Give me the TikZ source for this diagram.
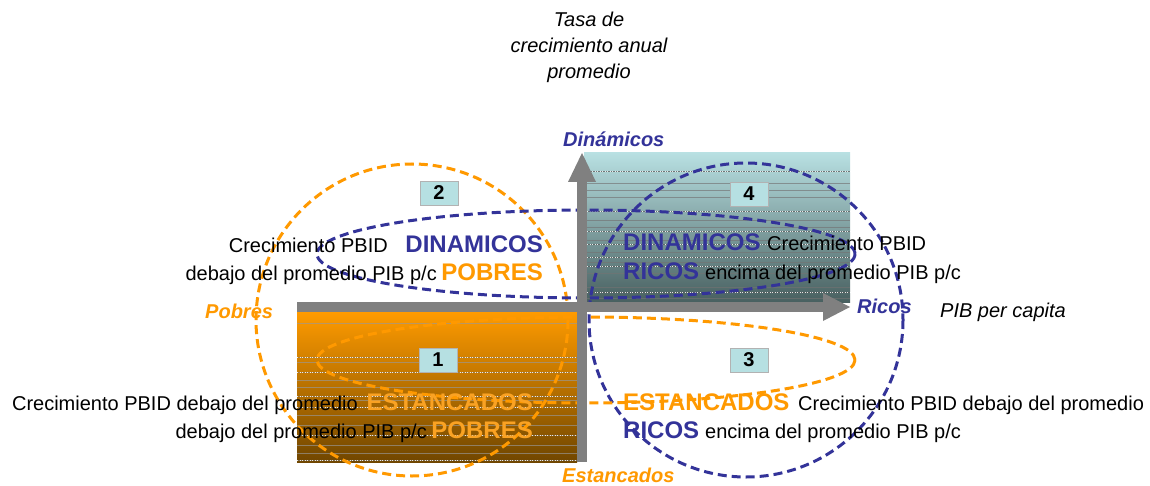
\documentclass[tikz,border=0pt]{standalone}
\usepackage{fontspec}
\setmainfont{Liberation Sans}
\definecolor{ablue}{RGB}{51,51,153}
\definecolor{aorange}{RGB}{255,153,0}
\definecolor{lorange}{RGB}{250,162,35}
\definecolor{axgray}{RGB}{128,128,128}
\definecolor{boxcyan}{RGB}{182,224,226}
\tikzset{
 txt/.style={inner sep=0pt, font=\fontsize{20}{24}\selectfont},
 ttl/.style={inner sep=0pt, anchor=base, font=\fontsize{20}{24}\selectfont\itshape},
 big/.style={inner sep=0pt, font=\fontsize{24}{28}\selectfont\bfseries},
 axlab/.style={inner sep=0pt, font=\fontsize{20}{24}\selectfont\bfseries\itshape},
 numbox/.style={draw=gray!60, line width=0.8pt, fill=boxcyan, minimum width=38pt, minimum height=24pt, inner sep=0pt, font=\fontsize{20}{22}\selectfont\bfseries},
 dashline/.style={line width=3pt, dash pattern=on 9pt off 5pt},
 stripe/.style={line width=0.9pt, black!55, opacity=0.65},
 dotstripe/.style={line width=1pt, white, dash pattern=on 1pt off 1.5pt, opacity=0.85},
}
\begin{document}
\begin{tikzpicture}[x=1pt,y=-1pt]
\useasboundingbox (0,0) rectangle (1150,486);
\fill[white] (0,0) rectangle (1150,486);
% quadrant 4 background
\shade[top color={rgb,255:red,184;green,224;blue,226}, middle color={rgb,255:red,142;green,176;blue,178}, bottom color={rgb,255:red,72;green,96;blue,96}] (584,153) rectangle (850,302);
\foreach \yy in {183,190,197,220,227,240,252,262,273,287,298}
  \draw[stripe] (587,\yy) -- (850,\yy);
\foreach \yy in {172,212,232,245,257,266,292}
  {\draw[line width=1pt, black!65, opacity=0.75] (587,\yy) -- (850,\yy);
   \draw[dotstripe] (587,\yy) -- (850,\yy);}
% quadrant 1 background
\shade[top color={rgb,255:red,255;green,155;blue,0}, middle color={rgb,255:red,214;green,124;blue,0}, bottom color={rgb,255:red,112;green,70;blue,0}] (297,312) rectangle (577,462);
\foreach \yy in {323,362,380,387,400,415,425,445,453}
  \draw[stripe, black!40] (297,\yy) -- (577,\yy);
\foreach \yy in {357,372,396,407,435,460}
  {\draw[line width=1pt, black!50, opacity=0.6] (297,\yy) -- (577,\yy);
   \draw[dotstripe] (297,\yy) -- (577,\yy);}
% dashed groupings
\draw[dashline, aorange] (412,320) circle[radius=156];
\draw[dashline, ablue] (746,320) circle[radius=157];
\draw[dashline, ablue] (586,254) ellipse[x radius=269, y radius=44];
\draw[dashline, aorange] (586,360) ellipse[x radius=269, y radius=43];
% axes
\fill[axgray] (297,302) rectangle (823,312);
\fill[axgray] (823,293) -- (850,307) -- (823,321) -- cycle;
\fill[axgray] (577,182) rectangle (587,462);
\fill[axgray] (568,182) -- (582,153) -- (596,182) -- cycle;
% number boxes
\node[numbox] (n2) at (439,193) {2};
\node[numbox] (n4) at (749,194) {4};
\node[numbox] (n1) at (438,360) {1};
\node[numbox] (n3) at (749,360) {3};
% title and axis labels
\node[ttl] (t1) at (589,27) {Tasa de};
\node[ttl] (t2) at (589,53) {crecimiento anual};
\node[ttl] (t3) at (589,79) {promedio};
\node[axlab, ablue, anchor=base west] (din) at (563,147) {Dinámicos};
\node[axlab, aorange, anchor=base west] (pob) at (205,318) {Pobres};
\node[axlab, ablue, anchor=base west] (ric) at (857,313) {Ricos};
\node[txt, anchor=base west, font=\fontsize{20}{24}\selectfont\itshape] (pib) at (940,317) {PIB per capita};
\node[axlab, aorange, anchor=base west] (est) at (562,482) {Estancados};
% quadrant 2
\node[big, ablue, anchor=base east] (q2a) at (543,252) {DINAMICOS};
\node[txt, anchor=base east] (q2b) at (388,252) {Crecimiento PBID};
\node[big, aorange, anchor=base east] (q2c) at (543,280) {POBRES};
\node[txt, anchor=base east] (q2d) at (437,280) {debajo del promedio PIB p/c};
% quadrant 4
\node[big, ablue, anchor=base west] (q4a) at (623,251) {DINAMICOS};
\node[txt, anchor=base west] (q4b) at (767,251) {Crecimiento PBID};
\node[big, ablue, anchor=base west] (q4c) at (623,279) {RICOS};
\node[txt, anchor=base west] (q4d) at (705,279) {encima del promedio PIB p/c};
% quadrant 3
\node[big, aorange, anchor=base west] (q3a) at (623,410) {ESTANCADOS};
\node[txt, anchor=base west] (q3b) at (798,410) {Crecimiento PBID debajo del promedio};
\node[big, ablue, anchor=base west] (q3c) at (623,438) {RICOS};
\node[txt, anchor=base west] (q3d) at (705,438) {encima del promedio PIB p/c};
% quadrant 1
\node[big, lorange, anchor=base east] (q1a) at (533,410) {ESTANCADOS};
\node[txt, anchor=base east] (q1b) at (358,410) {Crecimiento PBID debajo del promedio};
\node[big, lorange, anchor=base east] (q1c) at (533,438) {POBRES};
\node[txt, anchor=base east] (q1d) at (427,438) {debajo del promedio PIB p/c};
\end{tikzpicture}
\end{document}
